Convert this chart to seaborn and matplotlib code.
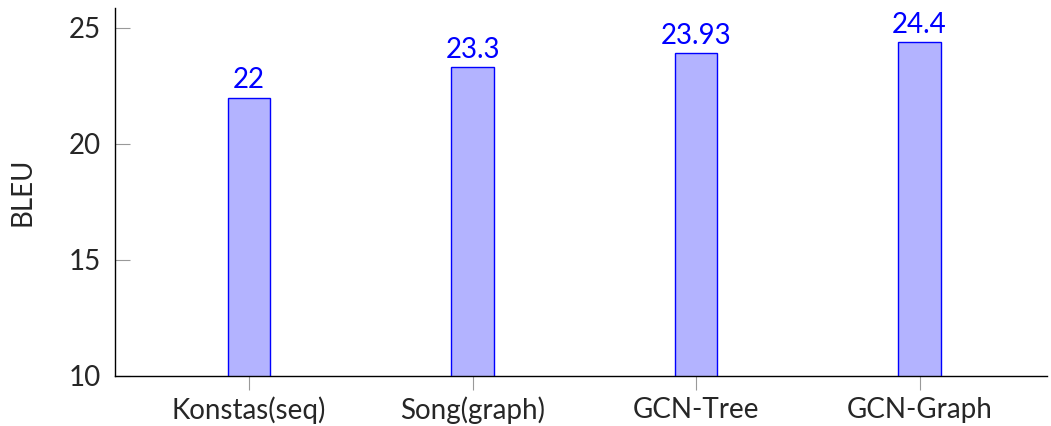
import matplotlib
matplotlib.use("Agg")
import matplotlib.pyplot as plt
import seaborn as sns
import pandas as pd

# data
models = ["Konstas(seq)", "Song(graph)", "GCN-Tree", "GCN-Graph"]
bleu = [22, 23.3, 23.93, 24.4]

df = pd.DataFrame({"model": models, "BLEU": bleu})

sns.set_style("white")
plt.rcParams['font.family'] = ['Lato', 'DejaVu Sans']

fig = plt.figure(figsize=(10.51, 4.26), dpi=100)
ax = fig.add_axes([0.1094, 0.1174, 0.8868, 0.8638])

sns.barplot(data=df, x="model", y="BLEU", ax=ax, width=0.19,
            color="#b3b3ff", edgecolor="#0000ff", linewidth=1.0, saturation=1)

ax.bar_label(ax.containers[0], labels=["%g" % v for v in bleu],
             color="#0000ff", fontsize=20, padding=3)

ax.set_ylim(10, 25.86)
ax.set_xlim(-0.6, 3.57)
ax.set_yticks([10, 15, 20, 25])
ax.set_xlabel("")
ax.set_ylabel("BLEU", fontsize=20, labelpad=24)

sns.despine(ax=ax)
ax.spines["left"].set_color("black")
ax.spines["bottom"].set_color("black")
ax.spines["left"].set_linewidth(1.0)
ax.spines["bottom"].set_linewidth(1.0)
ax.tick_params(axis="y", direction="in", length=11, color="#999999", labelsize=20, pad=10)
ax.tick_params(axis="x", direction="out", length=10, color="#999999", labelsize=20, pad=5)
ax.tick_params(left=True, bottom=True)

fig.savefig("out.png", dpi=100)
